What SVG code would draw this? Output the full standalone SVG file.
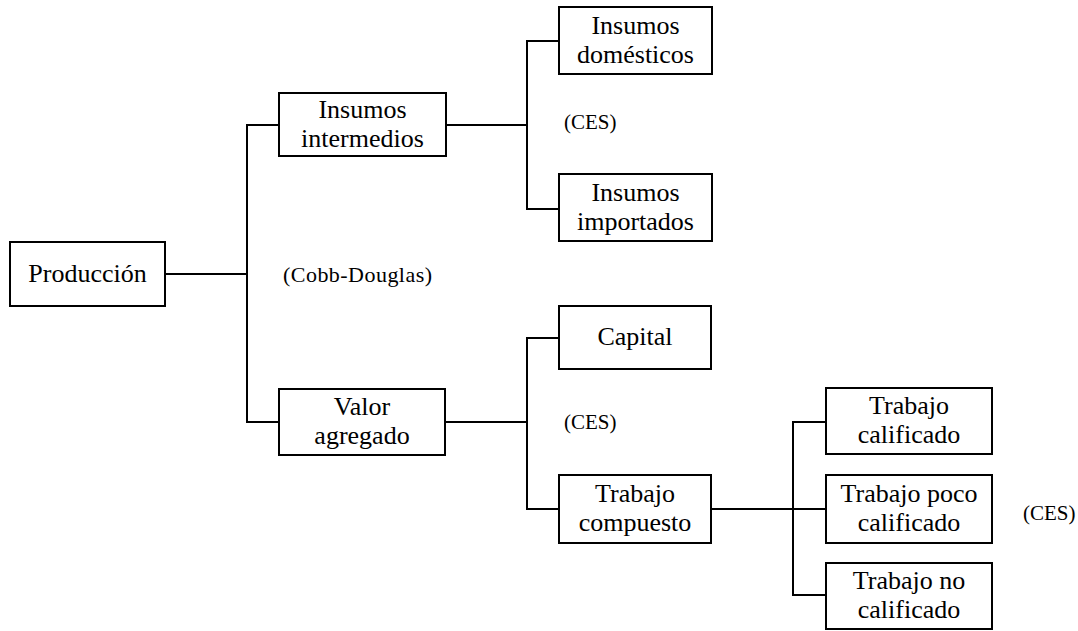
<svg xmlns="http://www.w3.org/2000/svg" width="1078" height="631" viewBox="0 0 1078 631">
<style>
.box{fill:#fff;stroke:#000;stroke-width:2}
.lbl{font-family:"Liberation Serif","Times New Roman",serif;font-size:26px;fill:#000;text-anchor:middle}
.note{font-family:"Liberation Serif","Times New Roman",serif;font-size:21px;fill:#000}
.conn{fill:none;stroke:#000;stroke-width:2}
</style>
<rect width="1078" height="631" fill="#fff"/>
<g id="connectors" class="conn">
<path d="M165,274H247"/>
<path d="M279,125H247V422H279"/>
<path d="M446,125H527"/>
<path d="M559,41H527V209H559"/>
<path d="M445,422H527"/>
<path d="M559,338H527V509H559"/>
<path d="M711,509H826"/>
<path d="M826,422H793V595H826"/>
</g>
<g id="produccion"><rect class="box" x="10" y="242" width="155" height="64"/><text class="lbl" x="87.5" y="282">Producción</text></g>
<g id="insumos-intermedios"><rect class="box" x="279" y="93" width="167" height="63"/><text class="lbl" x="362.5" y="118">Insumos</text><text class="lbl" x="362.5" y="147">intermedios</text></g>
<g id="valor-agregado"><rect class="box" x="279" y="389" width="166" height="66"/><text class="lbl" x="362" y="415">Valor</text><text class="lbl" x="362" y="444">agregado</text></g>
<g id="insumos-domesticos"><rect class="box" x="559" y="7" width="153" height="67"/><text class="lbl" x="635.5" y="34">Insumos</text><text class="lbl" x="635.5" y="63">domésticos</text></g>
<g id="insumos-importados"><rect class="box" x="559" y="174" width="153" height="67"/><text class="lbl" x="635.5" y="201">Insumos</text><text class="lbl" x="635.5" y="230">importados</text></g>
<g id="capital"><rect class="box" x="559" y="306" width="152" height="63"/><text class="lbl" x="635" y="345">Capital</text></g>
<g id="trabajo-compuesto"><rect class="box" x="559" y="475" width="152" height="68"/><text class="lbl" x="635" y="502">Trabajo</text><text class="lbl" x="635" y="531">compuesto</text></g>
<g id="trabajo-calificado"><rect class="box" x="826" y="388" width="166" height="66"/><text class="lbl" x="909" y="414">Trabajo</text><text class="lbl" x="909" y="443">calificado</text></g>
<g id="trabajo-poco-calificado"><rect class="box" x="826" y="475" width="166" height="68"/><text class="lbl" x="909" y="502">Trabajo poco</text><text class="lbl" x="909" y="531">calificado</text></g>
<g id="trabajo-no-calificado"><rect class="box" x="826" y="563" width="166" height="66"/><text class="lbl" x="909" y="589">Trabajo no</text><text class="lbl" x="909" y="618">calificado</text></g>
<g id="notes">
<text class="note" x="283" y="282" style="font-size:22px" textLength="149" lengthAdjust="spacing">(Cobb-Douglas)</text>
<text class="note" x="564" y="129">(CES)</text>
<text class="note" x="564" y="429">(CES)</text>
<text class="note" x="1023" y="520">(CES)</text>
</g>
</svg>
